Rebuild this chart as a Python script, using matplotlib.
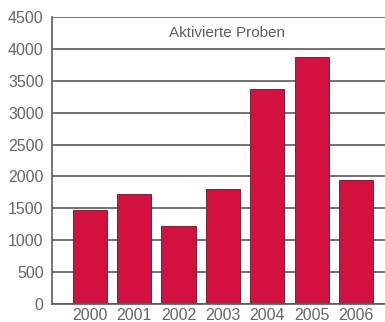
import matplotlib.pyplot as plt

years = ["2000", "2001", "2002", "2003", "2004", "2005", "2006"]
samples = [1480, 1730, 1230, 1800, 3370, 3880, 1940]
y_ticks = [0, 500, 1000, 1500, 2000, 2500, 3000, 3500, 4000, 4500]
title = "Aktivierte Proben"

plt.rcParams['font.family'] = ['Liberation Sans', 'DejaVu Sans']

fig = plt.figure(figsize=(3.85, 3.22), dpi=100)
ax = fig.add_axes([0.135, 0.056, 0.865, 0.891])

# horizontal grid lines behind the bars
for t in y_ticks:
    ax.axhline(t, color="#5a5a5a", linewidth=1.2, zorder=0)

x = range(len(years))
ax.bar(x, samples, width=0.77, color="#d21140", edgecolor="#6a2a35",
       linewidth=0.7, zorder=2)

ax.text(3.1, 4250, title, ha="center", va="center", fontsize=11,
        color="#5f5f5f")

ax.set_xlim(-0.85, 6.65)
ax.set_ylim(0, 4500)
ax.set_yticks(y_ticks)
ax.set_xticks(list(x))
ax.set_xticklabels(years)
ax.tick_params(axis="both", length=0, labelsize=11.5, labelcolor="#666666")
ax.tick_params(axis="y", pad=6)
ax.tick_params(axis="x", pad=3)

for side in ["top", "right"]:
    ax.spines[side].set_visible(False)
ax.spines["left"].set_color("#5a5a5a")
ax.spines["bottom"].set_color("#5a5a5a")
ax.spines["left"].set_linewidth(1.2)
ax.spines["bottom"].set_linewidth(1.2)

fig.savefig("out.png", dpi=100)
